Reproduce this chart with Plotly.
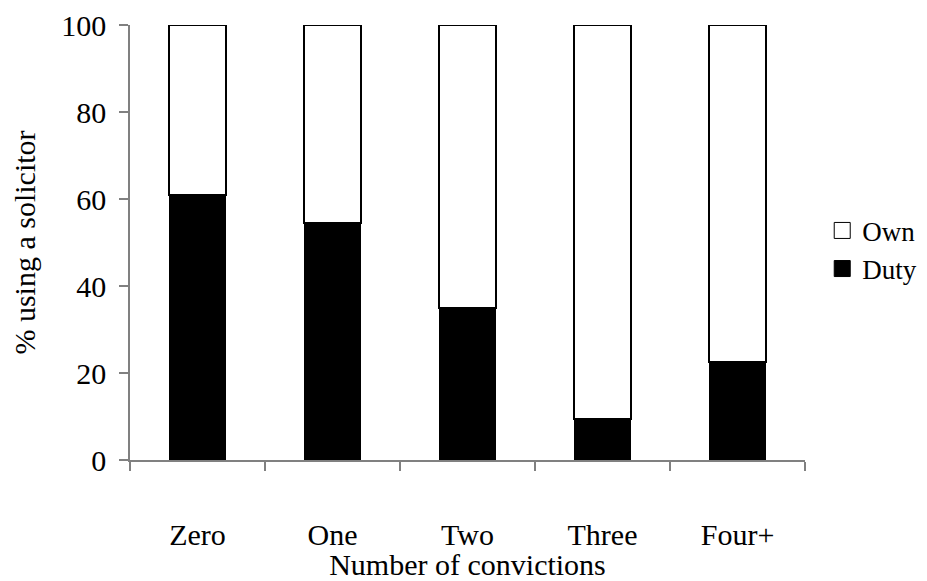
import plotly.graph_objects as go

categories = ["Zero", "One", "Two", "Three", "Four+"]
duty = [61, 54.5, 35, 9.5, 22.5]
own = [100 - d for d in duty]
y_ticks = [0, 20, 40, 60, 80, 100]

font = "Liberation Serif, Times New Roman, serif"
FS = 30

fig = go.Figure()
fig.add_trace(go.Bar(x=categories, y=duty, name="Duty", showlegend=False, legendgroup="duty",
                     marker=dict(color="black", line=dict(color="black", width=1.5))))
fig.add_trace(go.Bar(x=categories, y=own, name="Own", showlegend=False, legendgroup="own",
                     marker=dict(color="white", line=dict(color="black", width=2))))
# legend proxies with larger square symbols
fig.add_trace(go.Scatter(x=[None], y=[None], mode="markers", name="Duty", legendgroup="duty",
                         marker=dict(symbol="square", size=19, color="black",
                                     line=dict(color="black", width=1))))
fig.add_trace(go.Scatter(x=[None], y=[None], mode="markers", name="Own", legendgroup="own",
                         marker=dict(symbol="square", size=19, color="white",
                                     line=dict(color="black", width=1))))

# page body has an 8px margin; compensate
fig.update_layout(
    width=919, height=573,
    barmode="stack", bargap=0.585,
    paper_bgcolor="white", plot_bgcolor="white",
    margin=dict(l=122, r=122, t=17, b=121),
    font=dict(family=font, size=FS, color="black"),
    legend=dict(traceorder="reversed", xref="container", x=0.886, xanchor="left",
                y=0.483, yanchor="middle",
                font=dict(family=font, size=27), itemsizing="trace",
                bgcolor="rgba(0,0,0,0)", tracegroupgap=0, itemwidth=30),
    showlegend=True,
)
fig.update_xaxes(
    automargin=False,
    showline=True, linecolor="#808080", linewidth=1.5,
    ticks="outside", tickson="boundaries", ticklen=9, tickcolor="#808080", tickwidth=1.5,
    ticklabelstandoff=47,
    title=dict(text="Number of convictions", font=dict(family=font, size=FS), standoff=19),
    showgrid=False,
)
fig.update_yaxes(
    automargin=False,
    range=[0, 100], tickvals=y_ticks, showline=True, linecolor="#808080", linewidth=1.5,
    ticks="outside", ticklen=9, tickcolor="#808080", tickwidth=1.5,
    ticklabelstandoff=7,
    title=dict(text="% using a solicitor", font=dict(family=font, size=FS), standoff=22),
    showgrid=False, zeroline=False,
)

fig.write_html("out.html")
